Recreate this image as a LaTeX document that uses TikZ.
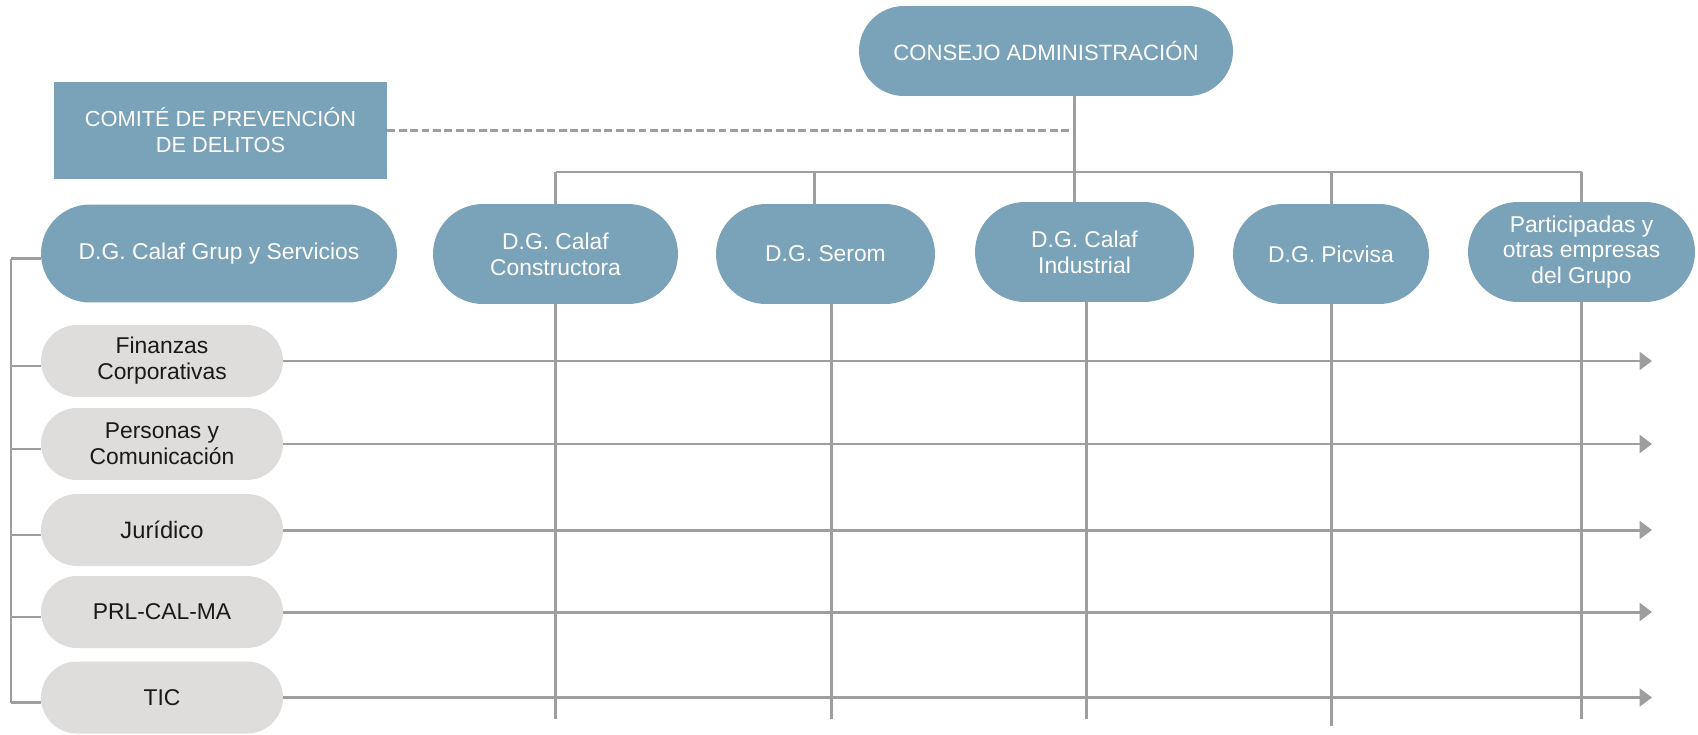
\documentclass[tikz,border=0pt]{standalone}
\usepackage{fontspec}
\setmainfont{Liberation Sans}
\usetikzlibrary{arrows.meta, calc, shapes.misc}
\definecolor{boxblue}{RGB}{122,162,184}
\definecolor{boxgray}{RGB}{223,221,220}
\definecolor{linegray}{RGB}{158,158,158}

\begin{document}
\begin{tikzpicture}[x=0.02cm, y=-0.02cm,
        dg/.style={rounded rectangle, fill=boxblue, text=white, align=center, inner sep=0pt,
            minimum height=2cm, font=\fontsize{13}{14.7}\selectfont},
        area/.style={rounded rectangle, fill=boxgray, text=black!90, align=center, inner sep=0pt,
            minimum width=4.84cm, minimum height=1.44cm, font=\fontsize{13}{14.7}\selectfont},
        link/.style={draw=linegray, line width=1.7pt},
        flow/.style={link, -{Triangle[length=7pt,width=10pt]}}]
        \useasboundingbox (0,0) rectangle (1698,734);

        % top
        \node[dg, minimum width=7.48cm, minimum height=1.8cm, font=\fontsize{12.6}{15}\selectfont] (consejo) at (1046,51) {CONSEJO ADMINISTRACIÓN};
        \node[fill=boxblue, text=white, align=center, minimum width=6.66cm, minimum height=1.94cm,
            font=\fontsize{12.4}{14.7}\selectfont] (comite) at (220.5,130.5) {COMITÉ DE PREVENCIÓN\\DE DELITOS};

        % direcciones generales
        \node[dg, minimum width=7.12cm, minimum height=1.96cm] (grup) at (219,253.5) {D.G. Calaf Grup y Servicios};
        \node[dg, minimum width=4.9cm] (constructora) at (555.5,254) {D.G. Calaf\\Constructora};
        \node[dg, minimum width=4.38cm] (serom) at (825.5,254) {D.G. Serom};
        \node[dg, minimum width=4.38cm] (industrial) at (1084.5,252) {D.G. Calaf\\Industrial};
        \node[dg, minimum width=3.92cm] (picvisa) at (1331,254) {D.G. Picvisa};
        \node[dg, minimum width=4.54cm] (participadas) at (1581.5,252) {Participadas y\\otras empresas\\del Grupo};

        % areas corporativas
        \node[area] (finanzas) at (162,361) {Finanzas\\Corporativas};
        \node[area] (personas) at (162,444) {Personas y\\Comunicación};
        \node[area, font=\fontsize{13.5}{15}\selectfont] (juridico) at (162,530) {Jurídico};
        \node[area] (prl) at (162,612) {PRL-CAL-MA};
        \node[area] (tic) at (162,697.5) {TIC};

        \coordinate (trunk) at (1074,0);
        \coordinate (bus) at (0,172);
        \coordinate (spine) at (11,0);
        \coordinate (tip) at (1652,0);
        \coordinate (floor) at (0,719);

        \draw[link, line width=1.2pt, dash pattern=on 4.5pt off 2pt] (comite.east) -- (comite.east -| trunk);
        \draw[link] (trunk |- consejo.south) -- (trunk |- industrial.north);
        \draw[link] (bus -| constructora.north) -- (bus -| participadas.north);

        % ticks down from the bus
        \draw[link] (bus -| constructora.north) -- (constructora.north);
        \draw[link] ($(bus -| serom.north)+(-11,0)$) -- ($(serom.north)+(-11,0)$);
        \draw[link] (bus -| picvisa.north) -- (picvisa.north);
        \draw[link] (bus -| participadas.north) -- (participadas.north);

        % columns
        \draw[link] (constructora.south) -- (floor -| constructora.south);
        \draw[link] ($(serom.south)+(5.5,0)$) -- ($(floor -| serom.south)+(5.5,0)$);
        \draw[link] ($(industrial.south)+(1.5,0)$) -- ($(floor -| industrial.south)+(1.5,0)$);
        \draw[link] (picvisa.south) -- ($(floor -| picvisa.south)+(0,7)$);
        \draw[link] (participadas.south) -- (floor -| participadas.south);

        % left bracket
        \draw[link, line width=1.3pt] ($(spine |- grup.west)+(0,5)$) -- ($(spine |- tic.west)+(0,5)$);
        \foreach \n in {grup,finanzas,personas,juridico,prl,tic}
            \draw[link, line width=1.3pt] ($(spine |- \n.west)+(0,5)$) -- ($(\n.west)+(0,5)$);

        % rows
        \foreach \n in {finanzas,personas,juridico,prl,tic}
            \draw[flow] (\n.east) -- (\n.east -| tip);

    \end{tikzpicture}
\end{document}
